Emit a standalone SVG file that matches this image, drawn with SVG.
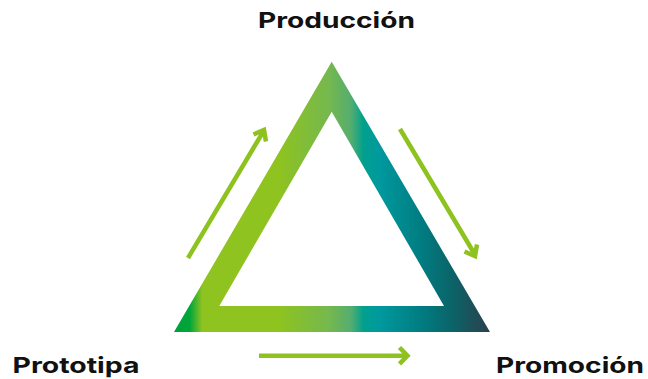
<svg xmlns="http://www.w3.org/2000/svg" width="648" height="379" viewBox="0 0 648 379">
<style>
.lbl{font-family:Inter,"Open Sans","Liberation Sans",sans-serif;font-weight:700;font-size:22px;fill:#111111}
.arr{fill:none;stroke:#8dc21f;stroke-width:4.5}
.head{fill:none;stroke:#8dc21f;stroke-width:4.5;stroke-linejoin:miter;stroke-miterlimit:10}
</style>
<defs>
<linearGradient id="g" gradientUnits="userSpaceOnUse" x1="174" y1="0" x2="490" y2="0">
<stop offset="0" stop-color="#00a03a"/>
<stop offset="0.05" stop-color="#00a63a"/>
<stop offset="0.09" stop-color="#8fc31f"/>
<stop offset="0.33" stop-color="#8fc31f"/>
<stop offset="0.49" stop-color="#75b84e"/>
<stop offset="0.56" stop-color="#55ad70"/>
<stop offset="0.60" stop-color="#00a08e"/>
<stop offset="0.65" stop-color="#00999e"/>
<stop offset="0.78" stop-color="#007d82"/>
<stop offset="0.89" stop-color="#0c6166"/>
<stop offset="1" stop-color="#2e3f4c"/>
</linearGradient>
</defs>
<g id="triangle">
<path d="M331.7 61.7 L490 332 L174 332 Z M331.7 111.7 L219.3 306 L444 306 Z" fill="url(#g)" fill-rule="evenodd"/>
</g>
<g id="connectors">
<g id="arrow-left">
<line class="arr" x1="188" y1="258" x2="263" y2="132"/>
<path class="head" d="M253.5 134.5 L264 130 L266 141.5"/>
</g>
<g id="arrow-right">
<line class="arr" x1="400" y1="129" x2="474" y2="253"/>
<path class="head" d="M464.5 251.5 L475 256 L477 244.5"/>
</g>
<g id="arrow-bottom">
<line class="arr" x1="259" y1="355.7" x2="405" y2="355.7"/>
<path class="head" d="M399.5 347.5 L407.5 355.7 L399.5 363.9"/>
</g>
</g>
<g id="node-produccion"><text class="lbl" x="258" y="28" textLength="157" lengthAdjust="spacingAndGlyphs">Producción</text></g>
<g id="node-prototipa"><text class="lbl" x="12.5" y="373" textLength="127" lengthAdjust="spacingAndGlyphs">Prototipa</text></g>
<g id="node-promocion"><text class="lbl" x="496" y="373" textLength="148" lengthAdjust="spacingAndGlyphs">Promoción</text></g>
</svg>
